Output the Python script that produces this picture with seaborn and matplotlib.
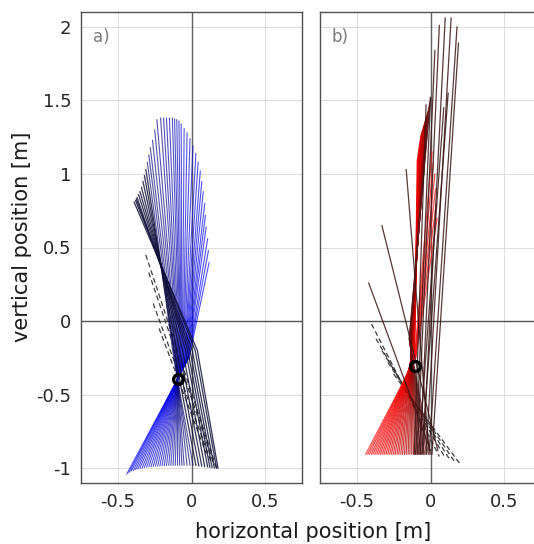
import numpy as np
import pandas as pd
import matplotlib
matplotlib.use("Agg")
import matplotlib.pyplot as plt
import seaborn as sns
from matplotlib.colors import LinearSegmentedColormap

## ---- panel a) : every rod drawn foot -> hip -> head (early = blue, late = dark)
a_foot_x = [-0.44, -0.425, -0.41, -0.395, -0.38, -0.365, -0.35, -0.335, -0.32, -0.305,
            -0.29, -0.275, -0.26, -0.245, -0.23, -0.215, -0.20, -0.185, -0.17, -0.155,
            -0.14, -0.125, -0.11, -0.095, -0.08, -0.065, -0.05, -0.03, -0.01, 0.01]
a_foot_y = [-1.04, -1.03, -1.02, -1.015, -1.01, -1.005, -1.0, -0.998, -0.995, -0.993,
            -0.99, -0.99, -0.988, -0.986, -0.985, -0.984, -0.983, -0.982, -0.981, -0.98,
            -0.98, -0.98, -0.98, -0.98, -0.98, -0.98, -0.98, -0.98, -0.98, -0.98]
a_hip_x = [-0.017, -0.020, -0.022, -0.025, -0.028, -0.031, -0.034, -0.037, -0.041, -0.044,
           -0.047, -0.051, -0.055, -0.058, -0.062, -0.065, -0.069, -0.073, -0.076, -0.080,
           -0.084, -0.088, -0.091, -0.095, -0.099, -0.102, -0.106, -0.111, -0.116, -0.121]
a_hip_y = [-0.25] * 30
a_head_x = [0.12, 0.115, 0.11, 0.10, 0.095, 0.09, 0.08, 0.07, 0.06, 0.045,
            0.03, 0.01, -0.01, -0.03, -0.05, -0.07, -0.085, -0.10, -0.115, -0.13,
            -0.15, -0.17, -0.19, -0.21, -0.235, -0.25, -0.265, -0.28, -0.29, -0.30]
a_head_y = [0.40, 0.48, 0.56, 0.64, 0.72, 0.80, 0.88, 0.95, 1.02, 1.08,
            1.14, 1.19, 1.24, 1.28, 1.31, 1.34, 1.36, 1.37, 1.375, 1.38,
            1.38, 1.38, 1.38, 1.38, 1.37, 1.30, 1.23, 1.18, 1.13, 1.08]

a_late_foot_x = [0.03, 0.05, 0.07, 0.09, 0.11, 0.125, 0.14, 0.155, 0.17, 0.18]
a_late_foot_y = [-0.982, -0.985, -0.987, -0.99, -0.992, -0.994, -0.996, -0.998, -1.0, -1.0]
a_late_hip_x = [-0.118, -0.10, -0.08, -0.06, -0.04, -0.025, -0.01, 0.005, 0.025, 0.04]
a_late_hip_y = [-0.2] * 10
a_late_head_x = [-0.31, -0.32, -0.33, -0.34, -0.35, -0.36, -0.37, -0.375, -0.38, -0.39]
a_late_head_y = [1.03, 0.99, 0.95, 0.91, 0.88, 0.86, 0.84, 0.83, 0.82, 0.81]

a_dash_x0 = [-0.31, -0.29, -0.26, -0.22]
a_dash_y0 = [0.45, 0.33, 0.12, -0.05]
a_dash_x1 = [0.17, 0.155, 0.13, 0.10]
a_dash_y1 = [-1.0, -0.98, -0.95, -0.90]

a_marker = (-0.095, -0.395)

## ---- panel b)
b_foot_x = [-0.44, -0.427, -0.415, -0.402, -0.39, -0.377, -0.365, -0.352, -0.34, -0.327,
            -0.315, -0.302, -0.29, -0.277, -0.265, -0.252, -0.24, -0.227, -0.215, -0.202,
            -0.19, -0.177, -0.165, -0.152, -0.14, -0.127, -0.115, -0.102, -0.09, -0.077,
            -0.065, -0.052, -0.04, -0.027, -0.015, 0.0]
b_foot_y = [-0.905] * 36
b_hip_x = [-0.100, -0.101, -0.103, -0.104, -0.105, -0.106, -0.108, -0.109, -0.110, -0.112,
           -0.113, -0.114, -0.115, -0.117, -0.118, -0.119, -0.121, -0.122, -0.123, -0.124,
           -0.126, -0.127, -0.128, -0.130, -0.131, -0.132, -0.133, -0.135, -0.136, -0.137,
           -0.139, -0.140, -0.141, -0.142, -0.144, -0.145]
b_hip_y = [-0.25, -0.246, -0.243, -0.239, -0.235, -0.232, -0.228, -0.224, -0.221, -0.217,
           -0.213, -0.21, -0.206, -0.202, -0.199, -0.195, -0.191, -0.188, -0.184, -0.18,
           -0.177, -0.173, -0.169, -0.166, -0.162, -0.158, -0.155, -0.151, -0.147, -0.144,
           -0.14, -0.136, -0.133, -0.129, -0.125, -0.12]
b_head_x = [0.045, 0.04, 0.035, 0.03, 0.02, 0.01, -0.09, -0.087, -0.084, -0.081,
            -0.078, -0.075, -0.072, -0.069, -0.066, -0.063, -0.06, -0.057, -0.054, -0.051,
            -0.048, -0.045, -0.042, -0.039, -0.036, -0.033, -0.03, -0.027, -0.024, -0.021,
            -0.018, -0.015, -0.012, -0.008, -0.004, 0.0]
b_head_y = [0.70, 0.80, 0.90, 1.00, 1.08, 1.15, 1.10, 1.12, 1.14, 1.16,
            1.18, 1.20, 1.22, 1.24, 1.26, 1.27, 1.28, 1.29, 1.30, 1.31,
            1.32, 1.33, 1.34, 1.35, 1.36, 1.37, 1.38, 1.39, 1.40, 1.41,
            1.42, 1.43, 1.45, 1.47, 1.49, 1.52]

b_late_foot_x = [-0.11, -0.10, -0.09, -0.08, -0.07, -0.06, -0.05, -0.03, -0.01, 0.01, 0.0, 0.05, -0.01]
b_late_foot_y = [-0.905, -0.905, -0.905, -0.905, -0.905, -0.905, -0.905, -0.905, -0.905, -0.905,
                 -0.88, -0.88, -0.88]
b_late_head_x = [-0.03, 0.0, 0.03, 0.09, 0.06, 0.12, 0.10, 0.14, 0.18, 0.19, -0.42, -0.33, -0.165]
b_late_head_y = [1.47, 1.52, 1.84, 1.45, 2.01, 1.55, 2.06, 2.06, 2.0, 1.89, 0.26, 0.65, 1.03]

b_dash_x0 = [-0.40, -0.37, -0.33, -0.29, -0.25]
b_dash_y0 = [-0.02, -0.12, -0.20, -0.28, -0.36]
b_dash_x1 = [0.06, 0.10, 0.13, 0.16, 0.20]
b_dash_y1 = [-0.92, -0.93, -0.94, -0.95, -0.97]

b_marker = (-0.102, -0.306)

xticks = [-0.5, 0, 0.5]
xtick_labels = ["-0.5", "0", "0.5"]
yticks = [-1, -0.5, 0, 0.5, 1, 1.5, 2]
ytick_labels = ["-1", "-0.5", "0", "0.5", "1", "1.5", "2"]


def polyline_frame(*coords):
    # coords = (x0, y0, x1, y1, ...) lists, one point per pair
    rows = []
    npts = len(coords) // 2
    for i in range(len(coords[0])):
        for k in range(npts):
            rows.append({"rod": i, "x": coords[2 * k][i], "y": coords[2 * k + 1][i]})
    return pd.DataFrame(rows)


sns.set_style("white")
plt.rcParams["font.family"] = ["DejaVu Sans"]

fig = plt.figure(figsize=(5.34, 5.44), dpi=100)
W, H = 534.0, 544.0
ax_a = fig.add_axes([81 / W, 61 / H, 221 / W, 471 / H])
ax_b = fig.add_axes([320 / W, 61 / H, 221 / W, 471 / H])

blue_cmap = LinearSegmentedColormap.from_list("blues", ["#0000ff", "#0a0ad0", "#06066a"])
red_cmap = LinearSegmentedColormap.from_list(
    "reds", ["#ff2020", "#ee0000", "#d00000", "#a00000", "#5a1a1a"])

panels = [
    (ax_a, "a)", blue_cmap, "#10103a", 0.8, 0.7,
     (a_foot_x, a_foot_y, a_hip_x, a_hip_y, a_head_x, a_head_y),
     (a_late_foot_x, a_late_foot_y, a_late_hip_x, a_late_hip_y, a_late_head_x, a_late_head_y),
     (a_dash_x0, a_dash_y0, a_dash_x1, a_dash_y1), a_marker),
    (ax_b, "b)", red_cmap, "#3a1414", 0.9, 0.75,
     (b_foot_x, b_foot_y, b_hip_x, b_hip_y, b_head_x, b_head_y),
     (b_late_foot_x, b_late_foot_y, b_late_head_x, b_late_head_y),
     (b_dash_x0, b_dash_y0, b_dash_x1, b_dash_y1), b_marker),
]

for ax, tag, cmap, late_col, lw_early, al_early, early, late, dashed, marker in panels:
    ax.set_xlim(-0.75, 0.75)
    ax.set_ylim(-1.1, 2.1)
    ax.grid(True, color="#dedede", lw=0.8)
    ax.set_axisbelow(True)
    ax.axhline(0, color="#505050", lw=1.0, zorder=1)
    ax.axvline(0, color="#606060", lw=1.0, zorder=1)

    df_early = polyline_frame(*early)
    sns.lineplot(data=df_early, x="x", y="y", units="rod", estimator=None, sort=False,
                 hue="rod", palette=cmap, hue_norm=(0, len(early[0]) - 1),
                 legend=False, lw=lw_early, alpha=al_early, ax=ax, zorder=3)

    df_late = polyline_frame(*late)
    sns.lineplot(data=df_late, x="x", y="y", units="rod", estimator=None, sort=False,
                 color=late_col, legend=False, lw=0.9, alpha=0.85, ax=ax, zorder=4)

    df_dash = polyline_frame(*dashed)
    sns.lineplot(data=df_dash, x="x", y="y", units="rod", estimator=None, sort=False,
                 color="#2a2a2a", legend=False, lw=0.9, alpha=0.9, ax=ax, zorder=2,
                 linestyle=(0, (4, 2.5)))

    ax.plot([marker[0]], [marker[1]], "o", mfc="none", mec="black", ms=7, mew=2.4, zorder=6)

    ax.text(-0.67, 1.93, tag, color="#7a7a7a", fontsize=12, ha="left", va="center")

    ax.set_xticks(xticks)
    ax.set_xticklabels(xtick_labels)
    ax.set_yticks(yticks)
    ax.set_yticklabels(ytick_labels)
    ax.tick_params(axis="x", direction="in", length=4, width=1, color="#505050",
                   labelsize=13, labelcolor="#262626", pad=7)
    ax.tick_params(axis="y", direction="in", length=0, labelsize=13,
                   labelcolor="#262626", pad=7)
    ax.set_xlabel("")
    ax.set_ylabel("")
    for s in ax.spines.values():
        s.set_color("#505050")
        s.set_linewidth(1.0)

ax_b.tick_params(axis="y", labelleft=False)

fig.text(22 / W, 0.564, "vertical position [m]", rotation=90, ha="center", va="center",
         fontsize=15, color="#1a1a1a")
fig.text(313 / W, 0.022, "horizontal position [m]", ha="center", va="center",
         fontsize=15, color="#1a1a1a")

fig.savefig("out.png", dpi=100)
